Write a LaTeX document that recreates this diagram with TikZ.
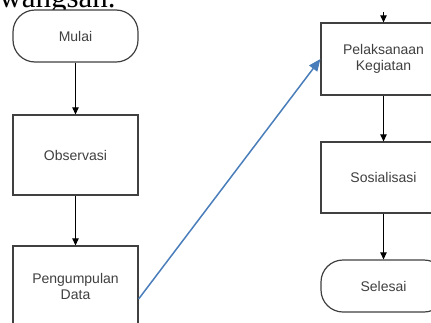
\documentclass[tikz,border=0pt]{standalone}
\usepackage{fontspec}
\setmainfont{Liberation Serif}
\newfontfamily\boxfont{Liberation Sans}
\usetikzlibrary{arrows.meta}
\definecolor{linkblue}{HTML}{4A7EBB}
\begin{document}
\begin{tikzpicture}[x=0.5pt,y=-0.5pt,
  box/.style={draw=black!75, line width=0.6pt, fill=white, minimum width=62.5pt,
    align=center, font=\boxfont\fontsize{7}{8}\selectfont, text=black!75, inner sep=0pt},
  term/.style={box, rounded corners=11pt, minimum height=26pt},
  flow/.style={-{Triangle[length=3.5pt,width=3.2pt]}, line width=0.5pt, black},
  link/.style={-{Triangle[length=6pt,width=5pt]}, line width=0.75pt, linkblue}]
\useasboundingbox (0,0) rectangle (431,322);
\clip (0,0) rectangle (431,322);
\node[anchor=base west, inner sep=0pt, font=\fontsize{15.5}{16}\selectfont] (head) at (-1,7) {wangsan.};
\node[term] (mulai) at (75.5,36) {Mulai};
\node[box, minimum height=40pt] (obs) at (75.5,155) {Observasi};
\node[box, minimum height=40pt] (peng) at (75.5,286) {Pengumpulan\\Data};
\node[box, minimum height=36pt] (pel) at (383.5,59) {Pelaksanaan\\Kegiatan};
\node[box, minimum height=35.5pt] (sos) at (383.5,177.5) {Sosialisasi};
\node[term] (sel) at (383.5,286) {Selesai};
\coordinate (above) at (383.5,12);
\draw[flow] (mulai) -- (obs);
\draw[flow] (obs) -- (peng);
\draw[flow] (above) -- (pel.north);
\draw[flow] (pel) -- (sos);
\draw[flow] (sos) -- (sel);
\draw[link] ([yshift=-6.5pt]peng.east) -- (pel.west);
\end{tikzpicture}
\end{document}
